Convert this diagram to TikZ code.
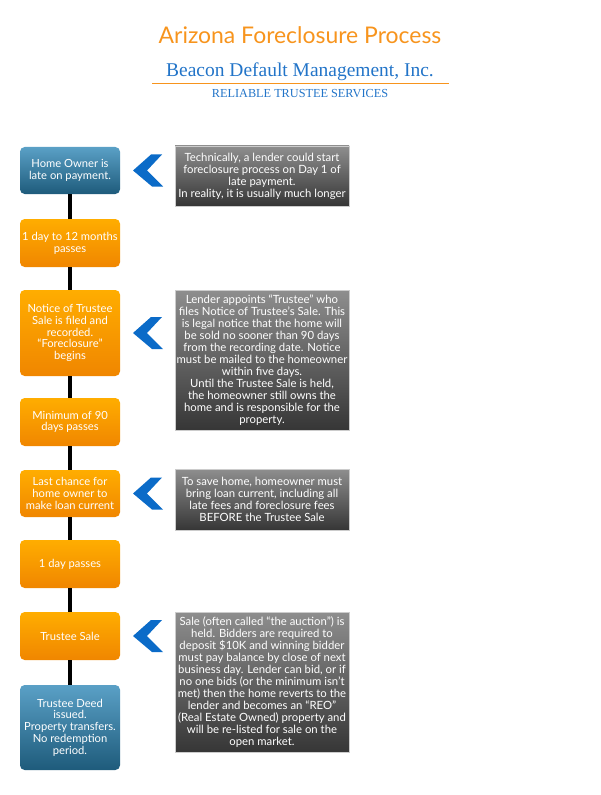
\documentclass[tikz,border=0pt]{standalone}
\usepackage{fontspec}
\setmainfont{Lato}
\newfontfamily\serifx{Liberation Serif}
\definecolor{oT}{HTML}{FFAD00}
\definecolor{oB}{HTML}{F08600}
\definecolor{bT}{HTML}{5AA0C6}
\definecolor{bB}{HTML}{1E5B7B}
\definecolor{gT}{HTML}{8E8E8E}
\definecolor{gB}{HTML}{363636}
\definecolor{chevc}{HTML}{0B6BC8}
\definecolor{titleo}{HTML}{F7941D}
\definecolor{subb}{HTML}{2274C8}
\begin{document}
\begin{tikzpicture}[x=0.75pt,y=-0.75pt,
  stepbox/.style={rounded corners=3.5pt, minimum width=75pt, inner sep=0pt,
     align=center, text=white,
     font=\fontsize{8.4}{8.8}\selectfont},
  obox/.style={stepbox, top color=oT, bottom color=oB},
  bbox/.style={stepbox, top color=bT, bottom color=bB},
  gbox/.style={draw=black!20, line width=0.5pt, top color=gT, bottom color=gB,
     minimum width=130.5pt, inner sep=0pt, align=center, text=white,
     font=\fontsize{8.5}{9}\selectfont},
  link/.style={line width=3pt},
  chev/.style={fill=chevc}]
\useasboundingbox (0,0) rectangle (600,795);
% header
\node[text=titleo, font=\fontsize{17.2}{19}\selectfont] (title) at (300,35) {Arizona Foreclosure Process};
\node[text=subb, font=\serifx\fontsize{14.6}{16}\selectfont] (sub) at (300,72) {Beacon Default Management, Inc.};
\coordinate (l1) at (152,84);
\coordinate (l2) at (449,84);
\draw[titleo, line width=0.75pt] (l1) -- (l2);
\node[text=subb, font=\serifx\fontsize{9.2}{10}\selectfont] (rel) at (300,94) {RELIABLE TRUSTEE SERVICES};
% left column
\node[bbox, minimum height=35.25pt] (b1) at (70,170.5) {Home Owner is\\late on payment.};
\node[obox, minimum height=36pt] (b2) at (70,243) {1 day to 12 months\\passes};
\node[obox, minimum height=64.5pt] (b3) at (70,333) {Notice of Trustee\\Sale is filed and\\recorded.\\“Foreclosure”\\begins};
\node[obox, minimum height=36pt] (b4) at (70,422) {Minimum of 90\\days passes};
\node[obox, minimum height=35.25pt] (b5) at (70,493.5) {Last chance for\\home owner to\\make loan current};
\node[obox, minimum height=36pt] (b6) at (70,564) {1 day passes};
\node[obox, minimum height=36pt] (b7) at (70,636) {Trustee Sale};
\node[bbox, minimum height=63.75pt] (b8) at (70,727.5) {Trustee Deed\\issued.\\Property transfers.\\No redemption\\period.};
\draw[link] (b1.south) -- (b2.north);
\draw[link] (b2.south) -- (b3.north);
\draw[link] (b3.south) -- (b4.north);
\draw[link] (b4.south) -- (b5.north);
\draw[link] (b5.south) -- (b6.north);
\draw[link] (b6.south) -- (b7.north);
\draw[link] (b7.south) -- (b8.north);
% right column
\node[gbox, minimum height=45pt] (g1) at (262,176) {Technically, a lender could start\\foreclosure process on Day 1 of\\late payment.\\In reality, it is usually much longer};
\node[gbox, minimum height=105pt] (g2) at (262,360) {Lender appoints “Trustee” who\\files Notice of Trustee’s Sale. This\\is legal notice that the home will\\be sold no sooner than 90 days\\from the recording date. Notice\\must be mailed to the homeowner\\within five days.\\Until the Trustee Sale is held,\\the homeowner still owns the\\home and is responsible for the\\property.};
\node[gbox, minimum height=45.75pt] (g3) at (262,499.5) {To save home, homeowner must\\bring loan current, including all\\late fees and foreclosure fees\\BEFORE the Trustee Sale};
\node[gbox, minimum height=105pt] (g4) at (262,682) {Sale (often called “the auction”) is\\held. Bidders are required to\\deposit \$10K and winning bidder\\must pay balance by close of next\\business day. Lender can bid, or if\\no one bids (or the minimum isn’t\\met) then the home reverts to the\\lender and becomes an “REO”\\(Real Estate Owned) property and\\will be re-listed for sale on the\\open market.};
% chevrons
\foreach \cy in {170.5,333,493.5,636}{
  \fill[chev, shift={(0,\cy)}] (133,0) -- (151,-16) -- (162,-16) -- (147,0) -- (163,16) -- (152,16) -- cycle;
}
\end{tikzpicture}
\end{document}
